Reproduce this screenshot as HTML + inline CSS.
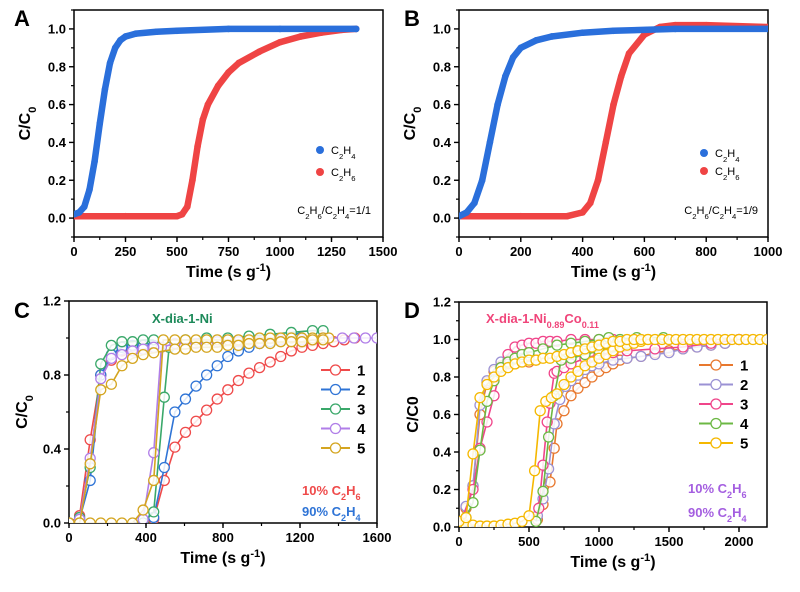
<!DOCTYPE html>
<html><head><meta charset="utf-8"><style>
html,body{margin:0;padding:0;background:#fff;}
svg{display:block;font-family:"Liberation Sans",Arial,sans-serif;font-weight:bold;}
</style></head><body>
<svg id="s" width="800" height="592" viewBox="0 0 800 592" xmlns="http://www.w3.org/2000/svg"></svg>
<script>
// ---------- DATA ----------
// Panel A (C2H6/C2H4 = 1/1)
const aEthyleneX=[0,25,50,75,100,125,150,175,200,225,250,300,400,500,750,1000,1370];
const aEthyleneY=[0.02,0.03,0.06,0.15,0.3,0.5,0.68,0.82,0.9,0.94,0.96,0.975,0.985,0.99,1.0,1.0,1.0];
const aEthaneX=[0,250,500,525,550,575,600,625,650,700,750,800,900,1000,1100,1200,1300,1370];
const aEthaneY=[0.01,0.01,0.01,0.02,0.06,0.2,0.38,0.52,0.6,0.7,0.77,0.82,0.88,0.93,0.96,0.98,0.995,1.0];
// Panel B (C2H6/C2H4 = 1/9)
const bEthyleneX=[0,25,50,75,100,125,150,175,200,250,300,400,500,700,1000];
const bEthyleneY=[0.01,0.03,0.08,0.2,0.4,0.6,0.75,0.85,0.9,0.94,0.96,0.98,0.99,1.0,1.0];
const bEthaneX=[0,200,350,400,425,450,475,500,525,550,600,650,700,800,1000];
const bEthaneY=[0.01,0.01,0.01,0.03,0.08,0.2,0.4,0.6,0.75,0.87,0.97,1.01,1.02,1.02,1.01];
// Panel C cycles (X-dia-1-Ni)
const cCycles=['1','2','3','4','5'];
const c1aX=[0,55,110,165,220,275,330,385,440];
const c1aY=[0,0.04,0.45,0.8,0.88,0.93,0.94,0.95,0.95];
const c1bX=[440,495,550,605,660,715,770,825,880,935,990,1045,1100,1155,1210,1265,1320,1375,1430,1485];
const c1bY=[0.02,0.23,0.41,0.49,0.55,0.61,0.67,0.72,0.77,0.81,0.84,0.87,0.9,0.93,0.95,0.96,0.97,0.98,0.99,1.0];
const c2aX=[0,55,110,165,220,275,330,385,440];
const c2aY=[0,0.02,0.23,0.8,0.91,0.95,0.96,0.96,0.96];
const c2bX=[440,495,550,605,660,715,770,825,880,935,990,1045,1100,1200,1320];
const c2bY=[0.03,0.3,0.6,0.67,0.74,0.8,0.85,0.9,0.93,0.95,0.97,0.98,0.99,1.0,1.0];
const c3aX=[0,55,110,165,220,275,330,385,440];
const c3aY=[0,0.03,0.3,0.86,0.96,0.98,0.98,0.99,0.99];
const c3bX=[385,440,495,520,605,715,825,935,1045,1155,1265,1320];
const c3bY=[0,0.06,0.68,0.95,0.99,1.0,1.0,1.01,1.02,1.03,1.04,1.04];
const c4aX=[0,55,110,165,220,275,330,385,440];
const c4aY=[0,0.02,0.35,0.78,0.89,0.91,0.93,0.94,0.95];
const c4bX=[385,440,480,550,660,770,880,990,1100,1210,1320,1420,1480,1540,1600];
const c4bY=[0.02,0.38,0.95,0.97,0.97,0.98,0.98,0.98,0.99,0.99,1.0,1.0,1.0,1.0,1.0];
const c5aX=[0,55,110,165,220,275,330,385,440,550,605,660,715,770,825,880,935,990,1045,1100,1155,1210,1265,1320];
const c5aY=[0,0,0.32,0.72,0.75,0.85,0.89,0.91,0.92,0.94,0.94,0.95,0.95,0.95,0.96,0.96,0.97,0.97,0.97,0.98,0.98,0.98,0.99,0.99];
const c5bX=[0,55,110,165,220,275,330,385,440,490,550,605,660,715,770,825,880,935,990,1045,1100,1155,1210,1265,1320,1350];
const c5bY=[0,0,0,0,0,0,0,0.07,0.23,0.99,0.99,0.99,0.99,0.99,0.99,0.99,0.99,0.99,1.0,1.0,1.0,1.0,1.0,1.0,1.0,1.0];
// Panel D cycles (X-dia-1-Ni0.89Co0.11)
const dCycles=['1','2','3','4','5'];
const d1aX=[0,50,100,150,200,250,300,350,400,450,500,550];
const d1aY=[0,0.1,0.22,0.6,0.77,0.83,0.86,0.87,0.87,0.88,0.88,0.89];
const d1bX=[560,600,650,680,700,750,800,850,900,950,1000,1050,1100,1150,1200,1300,1400,1500,1600,1700,1800,1900,2000];
const d1bY=[0.04,0.12,0.24,0.42,0.55,0.62,0.7,0.74,0.77,0.8,0.83,0.85,0.87,0.89,0.9,0.91,0.93,0.94,0.95,0.96,0.97,0.98,1.0];
const d2aX=[0,50,100,150,200,250,300,350,400,450,500];
const d2aY=[0,0.11,0.22,0.65,0.78,0.84,0.88,0.89,0.9,0.9,0.91];
const d2bX=[560,600,640,680,720,760,800,850,900,950,1000,1100,1200,1300,1400,1500,1600,1700,1800,1900,2000];
const d2bY=[0.06,0.15,0.31,0.55,0.68,0.75,0.78,0.81,0.84,0.86,0.87,0.89,0.9,0.91,0.92,0.93,0.95,0.96,0.97,0.98,1.0];
const d3aX=[0,100,150,200,250,300,350,400,450,500,550,600,650,700,800,900,1000,1100];
const d3aY=[0,0.2,0.42,0.56,0.7,0.85,0.92,0.96,0.97,0.98,0.98,0.99,0.99,0.99,1.0,1.0,1.0,1.0];
const d3bX=[570,600,630,650,680,700,750,800,900,1000,1100,1200,1400,1600,1800,2000];
const d3bY=[0.1,0.33,0.56,0.66,0.82,0.83,0.85,0.87,0.9,0.92,0.93,0.94,0.95,0.96,0.98,1.0];
const d4aX=[0,50,100,150,200,250,300,350,400,450,500,600,700,800,900,1000,1070,1150,1270,1460];
const d4aY=[0,0.05,0.13,0.41,0.67,0.78,0.85,0.88,0.9,0.92,0.93,0.95,0.97,0.98,0.99,1.0,1.01,1.0,1.01,1.01];
const d4bX=[550,600,640,680,730,800,900,1000,1100,1200];
const d4bY=[0.03,0.19,0.48,0.7,0.89,0.9,0.92,0.94,0.96,0.98];
const d5aX=[0,50,100,150,200,250,300,350,400,450,500,550,600,650,700,750,800,850,900,950,1000,1050,1100,1150,1200,1250,1300,1350,1400,1450,1500,1550,1600,1650,1700,1750,1800,1850,1900,1950,2000,2050,2100,2150,2200];
const d5aY=[0.03,0.05,0.39,0.69,0.76,0.8,0.83,0.85,0.87,0.88,0.89,0.89,0.9,0.9,0.91,0.92,0.93,0.94,0.95,0.96,0.97,0.98,0.99,0.99,1.0,1.0,1.0,1.0,1.0,1.0,1.0,1.0,1.0,1.0,1.0,1.0,1.0,1.0,1.0,1.0,1.0,1.0,1.0,1.0,1.0];
const d5bX=[0,50,100,150,200,250,300,350,400,450,500,540,580,620,660,700,750,800,850,900,950,1000,1050,1100,1150,1200,1250,1300,1350];
const d5bY=[0.02,0.01,0.01,0.005,0.005,0.005,0.01,0.015,0.02,0.03,0.06,0.3,0.62,0.67,0.69,0.71,0.76,0.8,0.83,0.86,0.88,0.9,0.92,0.94,0.96,0.97,0.98,0.99,1.0];

// ---------- RENDER ----------
const NS='http://www.w3.org/2000/svg';
const svg=document.getElementById('s');
function mk(tag,attrs,parent){const e=document.createElementNS(NS,tag);for(const k in attrs)e.setAttribute(k,attrs[k]);(parent||svg).appendChild(e);return e;}
function txt(x,y,html,size,anchor,fill,parent,rot){const t=mk('text',{x:x,y:y,'font-size':size,'text-anchor':anchor||'middle',fill:fill||'#000'},parent);if(rot)t.setAttribute('transform','rotate(-90 '+x+' '+y+')');t.innerHTML=html;return t;}
const sub=s=>'<tspan font-size="70%" baseline-shift="sub">'+s+'</tspan>';
const sup=s=>'<tspan font-size="70%" baseline-shift="super">'+s+'</tspan>';
const c2h=n=>'C'+sub('2')+'H'+sub(n);

function panel(o){
  const g=mk('g',{});
  
  
  const sx=v=>o.L+(v-o.x0)/(o.x1-o.x0)*(o.R-o.L);
  const sy=v=>o.B-(v-o.y0)/(o.y1-o.y0)*(o.B-o.T);
  o.sx=sx;o.sy=sy;o.g=g;
  const frame=mk('rect',{x:o.L,y:o.T,width:o.R-o.L,height:o.B-o.T,fill:'none',stroke:'#000','stroke-width':1.5},g);
  
  const xa=mk('g',{},g);
  for(let v=o.x0;v<=o.x1+1e-9;v+=o.xminor){const X=sx(v);mk('line',{x1:X,x2:X,y1:o.B,y2:o.B+3,stroke:'#000','stroke-width':1.2},xa);}
  o.xticks.forEach(v=>{const X=sx(v);mk('line',{x1:X,x2:X,y1:o.B,y2:o.B+5,stroke:'#000','stroke-width':1.4},xa);
    const t=txt(X,o.B+19,String(v),13,'middle','#000',xa);});
  const ya=mk('g',{},g);
  o.yminors.forEach(v=>{const Y=sy(v);mk('line',{x1:o.L,x2:o.L-3,y1:Y,y2:Y,stroke:'#000','stroke-width':1.2},ya);});
  o.yticks.forEach(v=>{const Y=sy(v);mk('line',{x1:o.L,x2:o.L-5,y1:Y,y2:Y,stroke:'#000','stroke-width':1.4},ya);
    const t=txt(o.L-8,Y+4.5,v.toFixed(1),13,'end','#000',ya);});
  const xt=txt((o.L+o.R)/2,o.B+40,'Time (s g'+sup('-1')+')',16,'middle','#000',g);
  
  const yt=txt(o.ytx,(o.T+o.B)/2,o.ytitle,16,'middle','#000',g,true);
  
  const pl=txt(o.plx,o.ply,o.letter,22,'start','#000',g);
  
  const clip=mk('clipPath',{id:'clip'+o.letter},g);mk('rect',{x:o.L,y:o.T,width:o.R-o.L,height:o.B-o.T},clip);
  o.plot=mk('g',{'clip-path':'url(#clip'+o.letter+')'},g);
  return o;
}
function dense(o,xs,ys,color,name){
  const s=mk('g',{},o.plot);
  const d=xs.map((x,i)=>(i?'L':'M')+o.sx(x).toFixed(1)+','+o.sy(ys[i]).toFixed(1)).join('');
  mk('path',{d:d,fill:'none',stroke:color,'stroke-width':6.5,'stroke-linecap':'round','stroke-linejoin':'round'},s);
  xs.forEach((x,i)=>{const c=mk('circle',{cx:o.sx(x),cy:o.sy(ys[i]),r:3.3,fill:color},s);});
}
function openSeries(o,xs,ys,color,name,r){
  const s=mk('g',{},o.plot);
  const d=xs.map((x,i)=>(i?'L':'M')+o.sx(x).toFixed(1)+','+o.sy(ys[i]).toFixed(1)).join('');
  mk('path',{d:d,fill:'none',stroke:color,'stroke-width':1.6},s);
  xs.forEach((x,i)=>{const c=mk('circle',{cx:o.sx(x),cy:o.sy(ys[i]),r:r,fill:'#fff','fill-opacity':0.85,stroke:color,'stroke-width':1.3},s);});
}
const BLUE='#2a6fdb',RED='#ef4444';
// Panel A
const A=panel({name:'panel-a',letter:'A',plx:14,ply:26,L:74,R:383,T:10,B:237,x0:0,x1:1500,y0:-0.1,y1:1.1,xticks:[0,250,500,750,1000,1250,1500],xminor:125,yticks:[0,0.2,0.4,0.6,0.8,1.0],yminors:[-0.1,0.1,0.3,0.5,0.7,0.9,1.1],ytx:30,ytitle:'C/C'+sub('0')});
dense(A,aEthaneX,aEthaneY,RED,'series-c2h6');
dense(A,aEthyleneX,aEthyleneY,BLUE,'series-c2h4');
// Panel B
const Bp=panel({name:'panel-b',letter:'B',plx:404,ply:26,L:459,R:768,T:10,B:237,x0:0,x1:1000,y0:-0.1,y1:1.1,xticks:[0,200,400,600,800,1000],xminor:100,yticks:[0,0.2,0.4,0.6,0.8,1.0],yminors:[-0.1,0.1,0.3,0.5,0.7,0.9,1.1],ytx:415,ytitle:'C/C'+sub('0')});
dense(Bp,bEthaneX,bEthaneY,RED,'series-c2h6');
dense(Bp,bEthyleneX,bEthyleneY,BLUE,'series-c2h4');
// legends A,B
[[A,320,150,172,c2h('6')+'/'+c2h('4')+'=1/1',371],[Bp,704,153,171,c2h('6')+'/'+c2h('4')+'=1/9',758]].forEach(([o,lx,y1,y2,ann,ax])=>{
  const lg=mk('g',{},o.g);
  mk('circle',{cx:lx,cy:y1,r:4,fill:BLUE},lg);txt(lx+11,y1+4,c2h('4'),11,'start','#000',lg).setAttribute('font-weight','normal');
  mk('circle',{cx:lx,cy:y2,r:4,fill:RED},lg);txt(lx+11,y2+4,c2h('6'),11,'start','#000',lg).setAttribute('font-weight','normal');
  const an=txt(ax,214,ann,11,'end','#000',o.g);an.setAttribute('font-weight','normal');
});
// Panel C
const C=panel({name:'panel-c',letter:'C',plx:14,ply:318,L:69,R:377,T:301,B:523,x0:0,x1:1600,y0:0,y1:1.2,xticks:[0,400,800,1200,1600],xminor:200,yticks:[0,0.4,0.8,1.2],yminors:[0.2,0.6,1.0],ytx:27,ytitle:'C/C'+sub('0')});
const cCol=['#ef4a4a','#2f74d6','#3aa86a','#b07ee8','#d4a520'];
const cA=[[c1aX,c1aY],[c2aX,c2aY],[c3aX,c3aY],[c4aX,c4aY],[c5aX,c5aY]];
const cB=[[c1bX,c1bY],[c2bX,c2bY],[c3bX,c3bY],[c4bX,c4bY],[c5bX,c5bY]];
cCycles.forEach((n,i)=>{openSeries(C,cB[i][0],cB[i][1],cCol[i],'cycle-'+n+'-c2h6',5);openSeries(C,cA[i][0],cA[i][1],cCol[i],'cycle-'+n+'-c2h4',5);});
// Panel D
const D=panel({name:'panel-d',letter:'D',plx:404,ply:318,L:459,R:767,T:302,B:527,x0:0,x1:2200,y0:0,y1:1.2,xticks:[0,500,1000,1500,2000],xminor:250,yticks:[0,0.2,0.4,0.6,0.8,1.0,1.2],yminors:[0.1,0.3,0.5,0.7,0.9,1.1],ytx:418,ytitle:'C/C0'});
const dCol=['#e8782e','#9b92d4','#f0458a','#6cb844','#f5b800'];
const dA=[[d1aX,d1aY],[d2aX,d2aY],[d3aX,d3aY],[d4aX,d4aY],[d5aX,d5aY]];
const dB=[[d1bX,d1bY],[d2bX,d2bY],[d3bX,d3bY],[d4bX,d4bY],[d5bX,d5bY]];
dCycles.forEach((n,i)=>{openSeries(D,dB[i][0],dB[i][1],dCol[i],'cycle-'+n+'-c2h6',5);openSeries(D,dA[i][0],dA[i][1],dCol[i],'cycle-'+n+'-c2h4',5);});
// legends C,D
function cycLegend(o,cycles,cols,x1,x2,y0,lab){
  const lg=mk('g',{},o.g);
  cycles.forEach((n,i)=>{const y=y0+i*19.5;mk('line',{x1:x1,x2:x2,y1:y,y2:y,stroke:cols[i],'stroke-width':2},lg);
    mk('circle',{cx:(x1+x2)/2,cy:y,r:5,fill:'#fff',stroke:cols[i],'stroke-width':1.3},lg);
    const t=txt(lab,y+5.5,n,15,'start','#000',lg);});
}
cycLegend(C,cCycles,cCol,321,350,370,357);
cycLegend(D,dCycles,dCol,699,733,365,740);
let t;
t=txt(152,323,'X-dia-1-Ni',13,'start','#1d8a5a',C.g);
t=txt(302,495,'10% '+c2h('6'),13,'start','#ef4a4a',C.g);
t=txt(302,516,'90% '+c2h('4'),13,'start','#2f74d6',C.g);
t=txt(486,323,'X-dia-1-Ni'+sub('0.89')+'Co'+sub('0.11'),13,'start','#f0457a',D.g);
t=txt(688,493,'10% '+c2h('6'),13,'start','#a45ee0',D.g);
t=txt(688,517,'90% '+c2h('4'),13,'start','#a45ee0',D.g);
</script>
</body></html>
